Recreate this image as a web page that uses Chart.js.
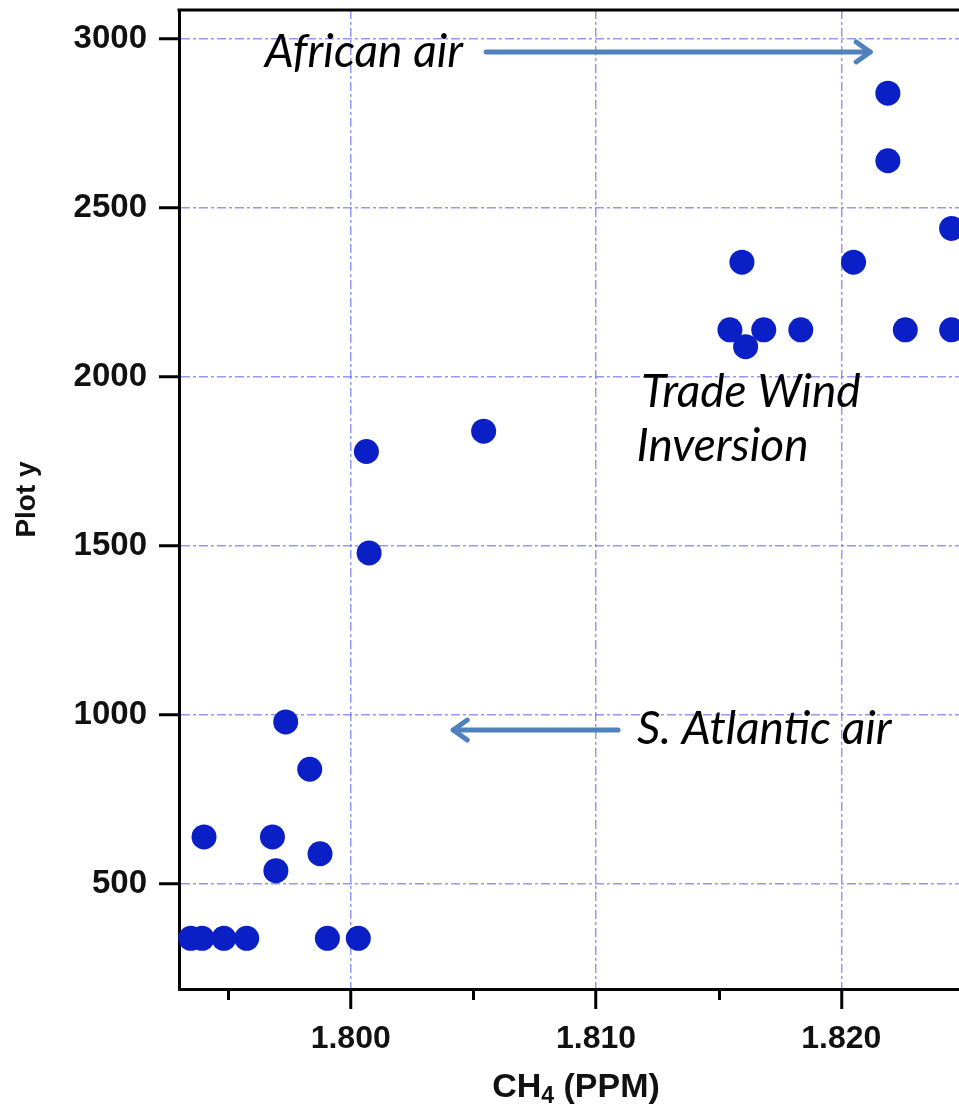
<!DOCTYPE html>
<html>
<head>
<meta charset="utf-8">
<script src="https://cdn.jsdelivr.net/npm/chart.js@4/dist/chart.umd.min.js"></script>
<style>
  html, body { margin: 0; padding: 0; background: #fff; overflow: hidden; }
  #myChart { display: block; }
</style>
</head>
<body>
<canvas id="myChart" width="959" height="1108"></canvas>
<script>
// CH4 (ppm)
var ch4 = [1.79348, 1.79394, 1.79483, 1.79576, 1.79905, 1.80031,
           1.79402, 1.79681, 1.79695, 1.79875, 1.79833, 1.79735,
           1.80075, 1.80064, 1.80542,
           1.81546, 1.81610, 1.81684, 1.81835, 1.82261, 1.82450,
           1.81595, 1.82050, 1.82190, 1.82190, 1.82450];
// Plot y
var plotY = [340, 340, 340, 340, 340, 340,
             640, 640, 540, 590, 840, 980,
             1480, 1780, 1840,
             2140, 2090, 2140, 2140, 2140, 2140,
             2340, 2340, 2640, 2840, 2440];
// 目盛り
var xTickValues = [1.795, 1.800, 1.805, 1.810, 1.815, 1.820];
var xTickLabels = ['', '1.800', '', '1.810', '', '1.820'];
var yTickValues = [500, 1000, 1500, 2000, 2500, 3000];
var yTickLabels = ['500', '1000', '1500', '2000', '2500', '3000'];

var gridColor = 'rgba(105, 105, 245, 0.7)';
var arrowColor = '#4F81BD';
var labelFont = "'Liberation Sans', Arial, sans-serif";

function drawArrow(ctx, x1, y, x2) {
    var dir = x2 > x1 ? 1 : -1;
    ctx.save();
    ctx.strokeStyle = arrowColor;
    ctx.lineWidth = 5;
    ctx.lineCap = 'round';
    ctx.lineJoin = 'round';
    ctx.beginPath();
    ctx.moveTo(x1, y);
    ctx.lineTo(x2, y);
    ctx.stroke();
    ctx.beginPath();
    ctx.moveTo(x2 - dir * 14, y - 10);
    ctx.lineTo(x2, y);
    ctx.lineTo(x2 - dir * 14, y + 10);
    ctx.stroke();
    ctx.restore();
}

// 注釈・枠・副目盛り・X軸タイトル
var extras = {
    id: 'extras',
    afterDraw: function(chart) {
        var ctx = chart.ctx, a = chart.chartArea;
        var xs = chart.scales.x, ys = chart.scales.y;
        ctx.save();
        // 上の枠線
        ctx.strokeStyle = '#000';
        ctx.lineWidth = 3;
        ctx.beginPath();
        ctx.moveTo(a.left - 1.5, a.top);
        ctx.lineTo(a.right, a.top);
        ctx.stroke();
        // 副目盛り
        xTickValues.forEach(function(v, i) {
            if (xTickLabels[i]) return;
            var px = Math.round(xs.getPixelForValue(v)) + 0.5;
            ctx.beginPath();
            ctx.moveTo(px, a.bottom);
            ctx.lineTo(px, a.bottom + 11);
            ctx.stroke();
        });
        // 注釈テキスト
        ctx.fillStyle = '#000';
        ctx.font = "italic 46px Lato, 'Open Sans', sans-serif";
        ctx.textBaseline = 'alphabetic';
        ctx.textAlign = 'left';
        ctx.fillText('African air', xs.getPixelForValue(1.79650), ys.getPixelForValue(2917));
        ctx.fillText('Trade Wind', xs.getPixelForValue(1.81185), ys.getPixelForValue(1913));
        ctx.fillText('Inversion', xs.getPixelForValue(1.81165), ys.getPixelForValue(1751));
        ctx.fillText('S. Atlantic air', xs.getPixelForValue(1.81167), ys.getPixelForValue(915));
        // 矢印
        drawArrow(ctx, xs.getPixelForValue(1.80552), ys.getPixelForValue(2962), xs.getPixelForValue(1.82118));
        drawArrow(ctx, xs.getPixelForValue(1.81090), ys.getPixelForValue(956), xs.getPixelForValue(1.80418));
        // X軸タイトル CH4 (PPM)
        var cx = (a.left + a.right) / 2 + 7, base = chart.height - 11;
        var big = 'bold 34px ' + labelFont, small = 'bold 23px ' + labelFont;
        ctx.font = big;
        var w1 = ctx.measureText('CH').width, w3 = ctx.measureText(' (PPM)').width;
        ctx.font = small;
        var w2 = ctx.measureText('4').width;
        var x0 = cx - (w1 + w2 + w3) / 2;
        ctx.fillStyle = '#111';
        ctx.font = big;
        ctx.fillText('CH', x0, base);
        ctx.font = small;
        ctx.fillText('4', x0 + w1, base + 6);
        ctx.font = big;
        ctx.fillText(' (PPM)', x0 + w1 + w2, base);
        ctx.restore();
    }
};

var ctx = document.getElementById('myChart');
var myChart = new Chart(ctx, {
    type: 'scatter',
    data: {
        datasets: [{
            label: 'CH4',
            data: ch4.map(function(x, i) { return { x: x, y: plotY[i] }; }),
            backgroundColor: '#0a1fc6',
            borderWidth: 0,
            pointRadius: 12.5,
            pointHoverRadius: 12.5,
            clip: false
        }]
    },
    plugins: [extras],
    options: {
        responsive: false,
        animation: false,
        layout: { autoPadding: false, padding: { top: 10, right: 0, bottom: 0, left: 0 } },
        plugins: {
            legend: { display: false },
            tooltip: { enabled: false }
        },
        scales: {
            x: {
                type: 'linear',
                min: 1.793,
                max: 1.8248,
                afterBuildTicks: function(s) {
                    s.ticks = xTickValues.map(function(v) { return { value: v }; });
                },
                afterFit: function(s) {
                    s.height = 119;
                    s.paddingLeft = 0;
                    s.paddingRight = 0;
                },
                ticks: {
                    callback: function(v, i) { return xTickLabels[i]; },
                    autoSkip: false,
                    maxRotation: 0,
                    padding: 11,
                    color: '#111',
                    font: { family: labelFont, size: 32, weight: 'bold' }
                },
                grid: {
                    color: function(c) { return xTickLabels[c.index] ? gridColor : 'transparent'; },
                    lineWidth: 1.5,
                    tickLength: 20,
                    tickWidth: 3,
                    tickColor: function(c) { return xTickLabels[c.index] ? '#000' : 'transparent'; }
                },
                border: { display: true, color: '#000', width: 3, dash: [9, 3, 3, 3] }
            },
            y: {
                type: 'linear',
                min: 190,
                max: 3086,
                afterBuildTicks: function(s) {
                    s.ticks = yTickValues.map(function(v) { return { value: v }; });
                },
                afterFit: function(s) {
                    s.width = 179;
                    s.paddingTop = 0;
                    s.paddingBottom = 0;
                },
                ticks: {
                    callback: function(v, i) { return yTickLabels[i]; },
                    autoSkip: false,
                    padding: 12,
                    color: '#111',
                    font: { family: labelFont, size: 33, weight: 'bold' }
                },
                grid: {
                    color: gridColor,
                    lineWidth: 1.5,
                    tickLength: 20,
                    tickWidth: 3,
                    tickColor: '#000'
                },
                border: { display: true, color: '#000', width: 3, dash: [9, 3, 3, 3] },
                title: {
                    display: true,
                    text: 'Plot y',
                    color: '#111',
                    padding: { top: 10, bottom: 0 },
                    font: { family: labelFont, size: 28, weight: 'bold' }
                }
            }
        }
    }
});
</script>
</body>
</html>
